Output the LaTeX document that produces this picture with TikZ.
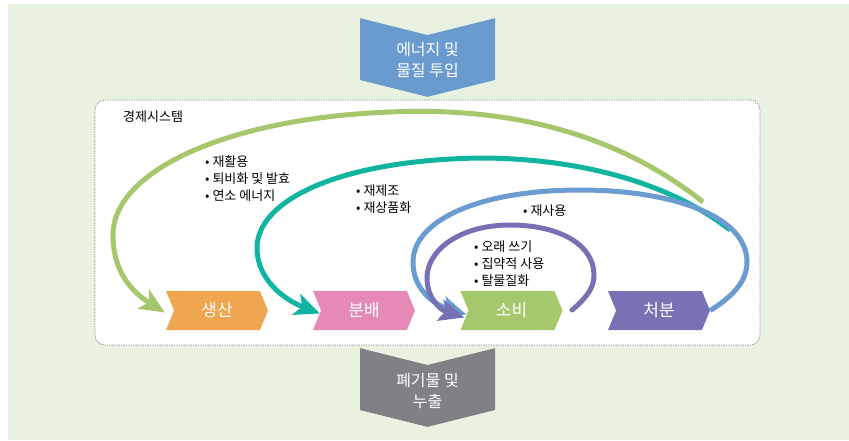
\documentclass[tikz,border=0pt]{standalone}
\usepackage{fontspec}
\setmainfont{Noto Sans CJK KR}
\usetikzlibrary{shapes.symbols,arrows.meta}
\definecolor{bgGreen}{HTML}{E9F2E1}
\definecolor{inBlue}{HTML}{6A9BCF}
\definecolor{outGray}{HTML}{818185}
\definecolor{prodOrange}{HTML}{F0A551}
\definecolor{distPink}{HTML}{E58AB7}
\definecolor{consGreen}{HTML}{A6C86C}
\definecolor{dispPurple}{HTML}{7872B5}
\definecolor{loopGreen}{HTML}{A6C76C}
\definecolor{loopTeal}{HTML}{11B59F}
\definecolor{loopBlue}{HTML}{6A9CD2}
\definecolor{loopPurple}{HTML}{7870B5}

\tikzset{
  stage/.style={signal, signal from=west, signal to=east, signal pointer angle=135,
    minimum width=102pt, minimum height=39pt, inner sep=0pt, text=white,
    font=\fontsize{17}{20}\selectfont},
  flowbox/.style={signal, signal from=north, signal to=south, signal pointer angle=152,
    minimum width=135pt, minimum height=45pt, inner sep=0pt},
  flowtext/.style={yshift=-3pt, text=white, align=center, inner sep=0pt,
    font=\fontsize{16}{21}\selectfont},
  cycleline/.style={line width=5pt, -{Stealth[length=25pt,width=22pt,inset=6pt]}},
  items/.style={align=left, anchor=base west, inner sep=0pt,
    font=\fontsize{13}{17}\selectfont}
}

\begin{document}
\begin{tikzpicture}[x=1pt,y=-1pt]
\useasboundingbox (0,0) rectangle (849,440);
\fill[bgGreen] (8,4) rectangle (849,440);

% economic system
\draw[gray, line width=0.7pt, dash pattern=on 1.2pt off 1.2pt, fill=white, rounded corners=10pt]
    (95,100) rectangle (760,345);
\node[items] (econ) at (123,121) {경제시스템};

% input and output
\node[flowbox, fill=inBlue, label={[flowtext]center:에너지 및\\물질 투입}] (input) at (427.5,57.5) {};
\node[flowbox, fill=outGray, label={[flowtext]center:폐기물 및\\누출}] (output) at (427.5,387.5) {};

% stages
\node[stage, fill=prodOrange] (prod) at (217,310.5) {생산};
\node[stage, fill=distPink] (dist) at (364,310.5) {분배};
\node[stage, fill=consGreen] (cons) at (511.5,310.5) {소비};
\node[stage, fill=dispPurple] (disp) at (659,310.5) {처분};

\coordinate (gStart) at (703,202);
\coordinate (tStart) at (730,230);
\coordinate (pStart) at (572,310);

% loops
\draw[cycleline, loopGreen] (gStart) .. controls (600,120) and (480,108) .. (390,112)
    .. controls (230,118) and (113,170) .. (113,235)
    .. controls (113,272) and (132,292) .. ([xshift=-9pt,yshift=-2pt]prod.west);
\draw[cycleline, loopTeal] (tStart) .. controls (660,175) and (560,158) .. (480,158)
    .. controls (340,160) and (257,200) .. (257,248)
    .. controls (257,280) and (285,300) .. ([xshift=-1pt,yshift=-3pt]dist.west);
\draw[cycleline, loopBlue] (disp.east) .. controls (735,295) and (747,280) .. (747,262)
    .. controls (747,215) and (670,190) .. (580,190)
    .. controls (480,190) and (413,220) .. (413,262)
    .. controls (413,288) and (432,304) .. ([xshift=-2pt,yshift=-4pt]cons.west);
\draw[cycleline, loopPurple, line cap=round] (pStart) .. controls (590,295) and (594,285) .. (594,275)
    .. controls (594,245) and (560,225) .. (510,225)
    .. controls (460,225) and (427,250) .. (427,278)
    .. controls (427,298) and (440,310) .. ([xshift=-4pt,yshift=-7pt]cons.west);

% labels
\node[items] (recyc) at (205,200) {• 재활용\\• 퇴비화 및 발효\\• 연소 에너지};
\node[items] (reman) at (356,212) {• 재제조\\• 재상품화};
\node[items] (reuse) at (523,215) {• 재사용};
\node[items] (share) at (474,285) {• 오래 쓰기\\• 집약적 사용\\• 탈물질화};
\end{tikzpicture}
\end{document}
